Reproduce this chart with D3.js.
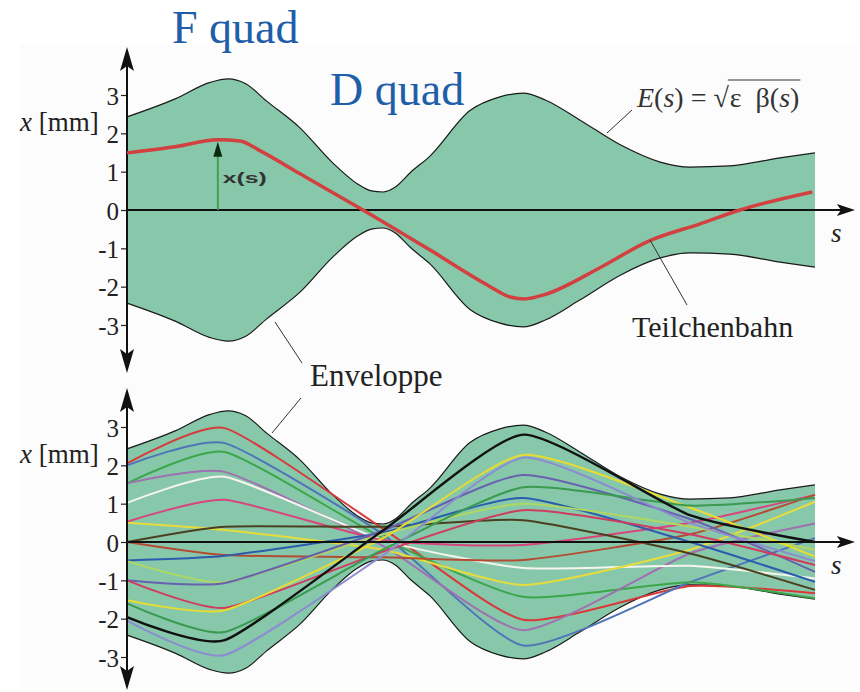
<!DOCTYPE html>
<html>
<head>
<meta charset="utf-8">
<script src="https://cdn.jsdelivr.net/npm/d3@7"></script>
<style>
  body { margin: 0; background: #fff; }
  svg { display: block; }
</style>
</head>
<body>
<div id="chart"></div>
<script>
// Envelope E(s) = sqrt(eps * beta(s)) (s in m, x in mm)
var envS = [0, 0.70, 1.21, 1.47, 1.72, 2.03, 2.51, 2.99, 3.35, 3.55, 3.72, 3.90, 4.12, 4.40, 4.99, 5.42, 5.76, 6.08, 6.58, 7.17, 7.75, 8.18, 8.76, 9.49, 10];
var envX = [2.43, 2.9, 3.33, 3.42, 3.3, 2.84, 2.15, 1.23, 0.68, 0.5, 0.47, 0.6, 0.98, 1.4, 2.6, 2.95, 3.05, 2.87, 2.35, 1.7, 1.25, 1.12, 1.15, 1.36, 1.49];

// single particle orbit, top panel
var orbitS = [0, 0.70, 1.32, 1.64, 1.93, 2.51, 3.43, 4.40, 5.28, 5.57, 5.78, 6.08, 6.88, 7.56, 8.33, 8.91, 9.96];
var orbitX = [1.49, 1.65, 1.83, 1.8, 1.55, 0.95, 0, -1.04, -2.0, -2.27, -2.32, -2.2, -1.5, -0.83, -0.36, 0, 0.47];
var markS = 1.32;   // where x(s) is marked

// many particles, bottom panel: x at start, F quad, D quad, F quad, D quad, end
var knotS = [0, 1.42, 3.72, 5.76, 8.18, 10];
var rayColors = ["#d8393b", "#4f74b8", "#3ca64a", "#a070b0", "#f5f5ee", "#d8447c", "#e6dc3c", "#4a4020",
                 "#b44c34", "#2c5cae", "#b0d860", "#6860b0", "#d03c60", "#e8dc30", "#3a9a50", "#8c8cd0", "#111111"];
var rayX = [
  [2.05, 2.97, 0.35, -2.03, -1.15, -1.34],
  [2.0, 2.58, 0.2, -2.7, -1.05, 0.1],
  [1.53, 2.35, 0.1, -1.43, -1.05, -1.47],
  [1.53, 1.83, -0.1, -2.3, -0.3, 0.48],
  [1.02, 1.7, 0.05, -0.68, -0.62, -0.95],
  [0.53, 1.1, 0.05, -0.08, 0.5, 1.23],
  [0.5, 0.31, -0.2, -1.12, -0.2, 1.05],
  [0.0, 0.4, 0.4, 0.57, -0.3, -1.25],
  [0.0, -0.34, -0.4, -0.47, 0.2, 1.23],
  [-0.48, -0.36, 0.25, 1.15, 0.0, -1.04],
  [-0.5, -1.05, 0.2, 1.0, 0.4, -0.2],
  [-1.0, -1.07, 0.3, 1.75, 0.6, -0.78],
  [-1.0, -1.72, -0.25, 0.83, 0.2, -0.6],
  [-1.52, -1.78, 0.1, 2.27, 0.9, -0.38],
  [-1.6, -2.35, -0.2, 1.43, 0.95, 1.15],
  [-2.05, -2.95, -0.35, 2.2, 0.5, -0.5],
  [-1.96, -2.56, 0.3, 2.8, 0.7, 0.0]
];

var yTicks = [-3, -2, -1, 0, 1, 2, 3];

var W = 860, H = 692;
var serif = "'Liberation Serif', 'Times New Roman', serif";
var blue = "#1f5ea8";
var mint = "#87c8ab";

var svg = d3.select('#chart').append('svg')
  .attr('width', W)
  .attr('height', H);

svg.append('rect')
  .attr('x', 20).attr('y', 45)
  .attr('width', 837).attr('height', 643)
  .attr('fill', '#fcfcfc');

var x = d3.scaleLinear().domain([0, 10]).range([127, 815]);
var sEnd = 10.58;   // arrow tip of the s axis

var panels = [
  { y: d3.scaleLinear().domain([-3, 3]).range([325, 95]), top: 47, bot: 373 },
  { y: d3.scaleLinear().domain([-3, 3]).range([657, 427]), top: 388, bot: 690 }
];

var env = envS.map(function(s, i) { return { s: s, e: envX[i] }; });

function drawEnvelope(g, y) {
  g.append('path')
    .datum(env)
    .attr('fill', mint)
    .attr('d', d3.area()
      .x(function(d) { return x(d.s); })
      .y0(function(d) { return y(-d.e); })
      .y1(function(d) { return y(d.e); })
      .curve(d3.curveMonotoneX));
  [1, -1].forEach(function(sign) {
    g.append('path')
      .datum(env)
      .attr('fill', 'none')
      .attr('stroke', '#1a1a1a')
      .attr('stroke-width', 1.2)
      .attr('d', d3.line()
        .x(function(d) { return x(d.s); })
        .y(function(d) { return y(sign * d.e); })
        .curve(d3.curveMonotoneX));
  });
}

function drawAxes(g, p) {
  var y = p.y, y0 = y(0), ax = x(0);
  var axis = g.append('g')
    .attr('transform', 'translate(' + ax + ',0)')
    .call(d3.axisLeft(y).tickValues(yTicks).tickSize(6).tickPadding(2)
      .tickFormat(function(d) { return d < 0 ? '-' + (-d) : d; }));
  axis.attr('font-family', serif).attr('font-size', 25);
  axis.select('.domain').remove();
  axis.selectAll('line').attr('stroke', '#222').attr('stroke-width', 1.2);
  axis.selectAll('text')
    .attr('fill', '#222')
    .attr('dy', '0.36em');

  // vertical axis with arrows at both ends
  g.append('line')
    .attr('x1', ax).attr('x2', ax)
    .attr('y1', p.top + 10).attr('y2', p.bot - 10)
    .attr('stroke', '#111').attr('stroke-width', 2);
  g.append('path').attr('fill', '#111')
    .attr('d', 'M' + ax + ',' + p.top + 'L' + (ax - 7) + ',' + (p.top + 24) + 'L' + ax + ',' + (p.top + 19) + 'L' + (ax + 7) + ',' + (p.top + 24) + 'Z');
  g.append('path').attr('fill', '#111')
    .attr('d', 'M' + ax + ',' + p.bot + 'L' + (ax - 7) + ',' + (p.bot - 24) + 'L' + ax + ',' + (p.bot - 19) + 'L' + (ax + 7) + ',' + (p.bot - 24) + 'Z');

  // s axis
  var xe = x(sEnd);
  g.append('line')
    .attr('x1', ax).attr('x2', xe - 8)
    .attr('y1', y0).attr('y2', y0)
    .attr('stroke', '#111').attr('stroke-width', 2);
  g.append('path').attr('fill', '#111')
    .attr('d', 'M' + xe + ',' + y0 + 'L' + (xe - 18) + ',' + (y0 - 6) + 'L' + (xe - 14) + ',' + y0 + 'L' + (xe - 18) + ',' + (y0 + 6) + 'Z');
  g.append('text')
    .attr('x', xe - 24).attr('y', y0 + 32)
    .attr('font-family', serif).attr('font-style', 'italic')
    .attr('font-size', 27).attr('fill', '#222')
    .text('s');

  g.append('text')
    .attr('x', 20).attr('y', y(2.3) + 9)
    .attr('font-family', serif).attr('font-size', 27).attr('fill', '#222')
    .html('<tspan font-style="italic">x</tspan> [mm]');
}

// ---------- top panel ----------
var gTop = svg.append('g');
var pT = panels[0];
drawEnvelope(gTop, pT.y);
drawAxes(gTop, pT);

var orbit = orbitS.map(function(s, i) { return { s: s, v: orbitX[i] }; });
gTop.append('path')
  .datum(orbit)
  .attr('fill', 'none')
  .attr('stroke', '#d2403f')
  .attr('stroke-width', 3.5)
  .attr('d', d3.line()
    .x(function(d) { return x(d.s); })
    .y(function(d) { return pT.y(d.v); })
    .curve(d3.curveMonotoneX));

// x(s) marker
var mx = x(markS), mTip = pT.y(orbitX[orbitS.indexOf(markS)]) + 2;
gTop.append('line')
  .attr('x1', mx).attr('x2', mx)
  .attr('y1', pT.y(0)).attr('y2', mTip + 10)
  .attr('stroke', '#3aa040').attr('stroke-width', 1.8);
gTop.append('path').attr('fill', '#0d2a10')
  .attr('d', 'M' + mx + ',' + mTip + 'L' + (mx - 4.5) + ',' + (mTip + 15) + 'L' + (mx + 4.5) + ',' + (mTip + 15) + 'Z');
gTop.append('text')
  .attr('x', mx + 5).attr('y', pT.y(0.7))
  .attr('font-family', "'Liberation Sans', Arial, sans-serif")
  .attr('font-weight', 'bold').attr('font-size', 15).attr('fill', '#333')
  .attr('textLength', 44).attr('lengthAdjust', 'spacingAndGlyphs')
  .text('x(s)');

// ---------- bottom panel ----------
var gBot = svg.append('g');
var pB = panels[1];
drawEnvelope(gBot, pB.y);

var ray = d3.line()
  .x(function(d, i) { return x(knotS[i]); })
  .y(function(d) { return pB.y(d); })
  .curve(d3.curveCardinal.tension(0.45));

gBot.selectAll('path.ray')
  .data(rayX)
  .enter().append('path')
  .attr('class', 'ray')
  .attr('fill', 'none')
  .attr('stroke', function(d, i) { return rayColors[i]; })
  .attr('stroke-width', function(d, i) { return i === rayX.length - 1 ? 2.4 : 2; })
  .attr('d', ray);

drawAxes(gBot, pB);

// ---------- labels ----------
svg.append('text')
  .attr('x', 172).attr('y', 43)
  .attr('font-family', serif).attr('font-size', 46).attr('fill', blue)
  .text('F quad');
svg.append('text')
  .attr('x', 330).attr('y', 105)
  .attr('font-family', serif).attr('font-size', 46).attr('fill', blue)
  .text('D quad');

var eq1 = svg.append('text')
  .attr('x', 637).attr('y', 107)
  .attr('font-family', serif).attr('font-size', 28).attr('fill', '#333')
  .html('<tspan font-style="italic">E</tspan>(<tspan font-style="italic">s</tspan>) = \u221A');
var x1 = 637 + eq1.node().getComputedTextLength() + 1;
var eq2 = svg.append('text')
  .attr('x', x1).attr('y', 107)
  .attr('font-family', serif).attr('font-size', 28).attr('fill', '#333')
  .html('\u03B5\u2002\u03B2(<tspan font-style="italic">s</tspan>)');
var x2 = x1 + eq2.node().getComputedTextLength();
svg.append('line')
  .attr('x1', x1 - 2).attr('x2', x2 + 1)
  .attr('y1', 80).attr('y2', 80)
  .attr('stroke', '#333').attr('stroke-width', 1.2);

svg.append('text')
  .attr('x', 632).attr('y', 337)
  .attr('font-family', serif).attr('font-size', 30).attr('fill', '#222')
  .text('Teilchenbahn');
svg.append('text')
  .attr('x', 310).attr('y', 386)
  .attr('font-family', serif).attr('font-size', 31).attr('fill', '#222')
  .text('Enveloppe');

// leader lines
var leaders = [
  [632, 110, 607, 133],
  [687, 305, 650, 240],
  [302, 363, 275, 322],
  [301, 398, 272, 433]
];
svg.selectAll('line.leader')
  .data(leaders)
  .enter().append('line')
  .attr('class', 'leader')
  .attr('x1', function(d) { return d[0]; })
  .attr('y1', function(d) { return d[1]; })
  .attr('x2', function(d) { return d[2]; })
  .attr('y2', function(d) { return d[3]; })
  .attr('stroke', '#333').attr('stroke-width', 1);
</script>
</body>
</html>
